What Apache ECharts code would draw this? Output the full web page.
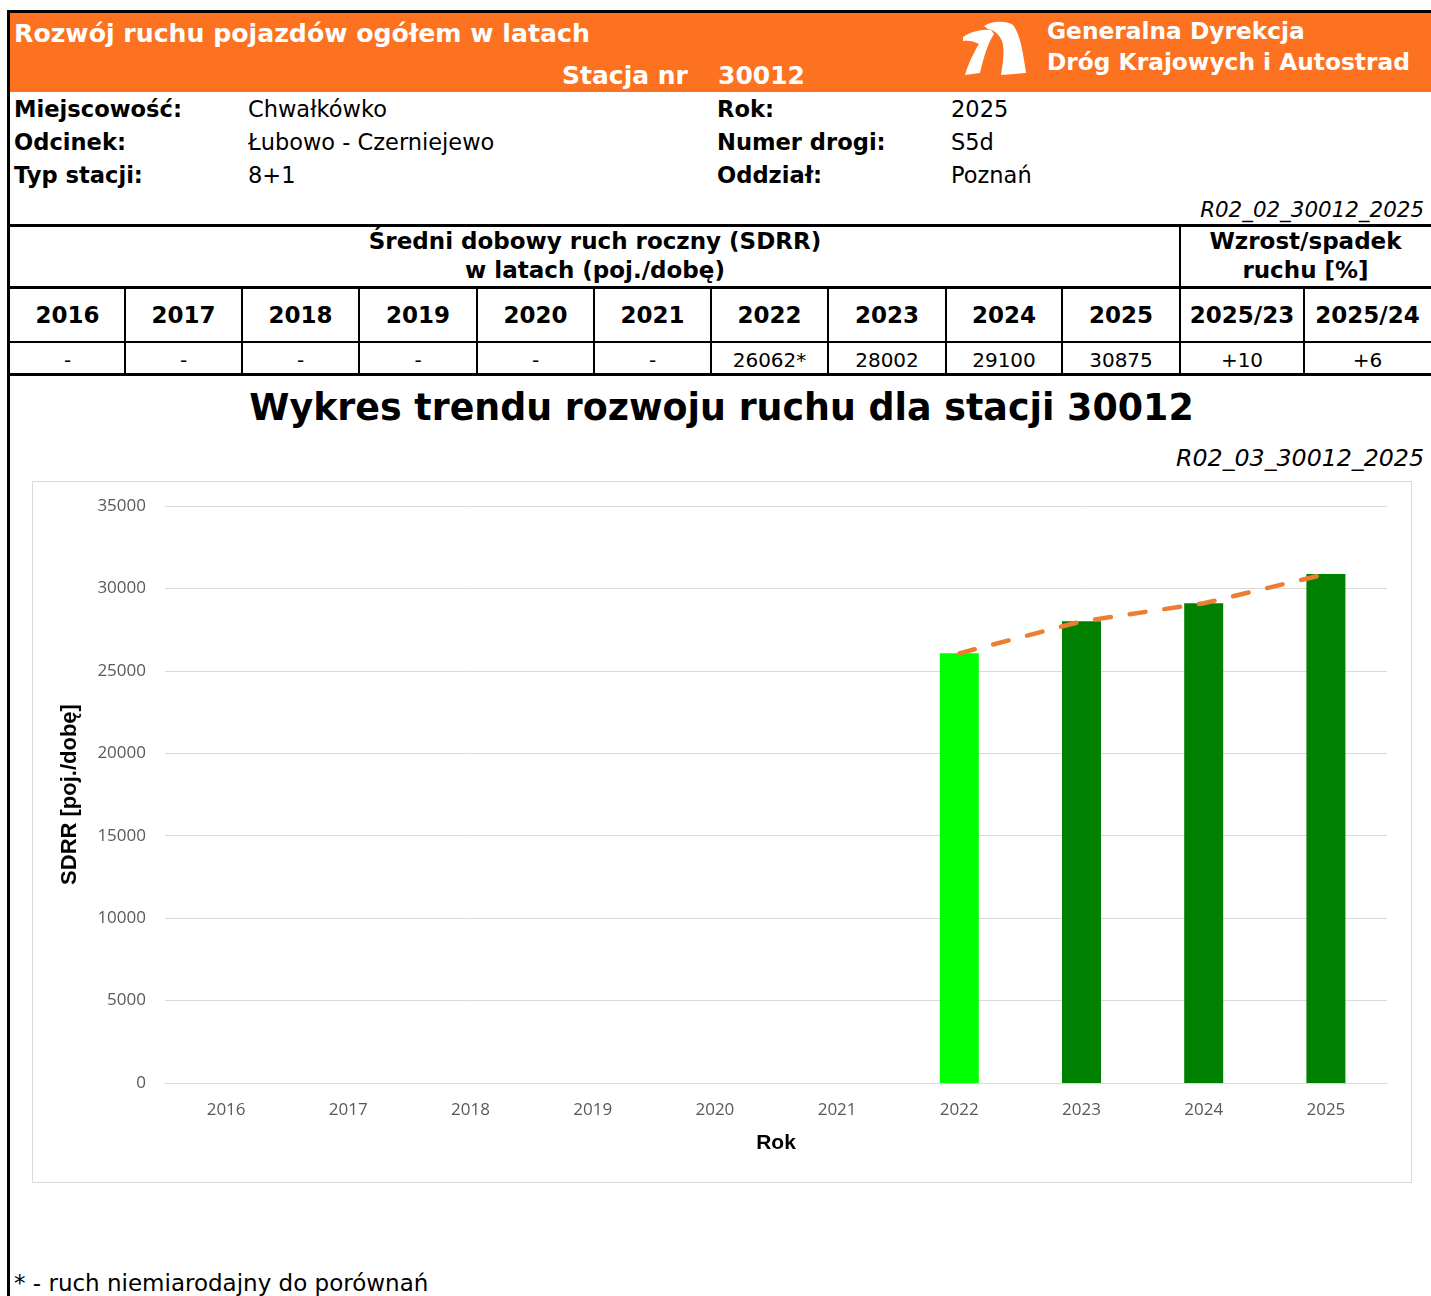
<!DOCTYPE html>
<html>
<head>
<meta charset="utf-8">
<script src="https://cdn.jsdelivr.net/npm/echarts@6/dist/echarts.min.js"></script>
<style>
  body { margin: 0; width: 1431px; height: 1296px; position: relative; overflow: hidden; background: #fff; font-family: "DejaVu Sans", Verdana, sans-serif; color: #000; }
  .abs { position: absolute; white-space: nowrap; }
  .b { font-weight: bold; }
  .hl { position: absolute; background: #000; }
  .cell { position: absolute; text-align: center; }
</style>
</head>
<body>
<!-- ramka i pasek naglowka -->
<div class="hl" style="left:7px;top:10px;width:1424px;height:3px"></div>
<div class="hl" style="left:7px;top:10px;width:3px;height:1286px"></div>
<div class="abs" style="left:10px;top:13px;width:1421px;height:79px;background:#fd7220"></div>
<div class="abs b" style="left:14px;top:19px;font-size:25.2px;color:#fff">Rozwój ruchu pojazdów ogółem w latach</div>
<div class="abs b" style="left:562px;top:61px;font-size:25px;color:#fff">Stacja nr</div>
<div class="abs b" style="left:718px;top:61px;font-size:25px;color:#fff">30012</div>
<svg class="abs" style="left:950px;top:10px" width="90" height="80" viewBox="0 0 90 80">
  <path d="M13 27 C20 22 31 19 41 20 L44 24 C38 33 34 46 30 63 L15 65 C19 52 24 42 29 34 C24 31 18 30 13 31 Z" fill="#fff"/>
  <path d="M34 16 C41 11 55 10 63 15 C70 24 73 42 76 63 L51 65 C53 52 55 40 52 31 C49 24 44 20 38 19 Z" fill="#fff"/>
</svg>
<div class="abs b" style="left:1047px;top:17px;font-size:23.3px;color:#fff">Generalna Dyrekcja</div>
<div class="abs b" style="left:1047px;top:48px;font-size:23.3px;color:#fff">Dróg Krajowych i Autostrad</div>

<div id="info"></div>
<div class="abs" style="right:7px;top:197px;font-size:21.4px;font-style:italic">R02_02_30012_2025</div>

<div id="table"></div>

<div class="abs b" style="left:0;width:1443px;top:386px;font-size:36.4px;text-align:center">Wykres trendu rozwoju ruchu dla stacji 30012</div>
<div class="abs" style="right:7px;top:444px;font-size:23.7px;font-style:italic">R02_03_30012_2025</div>

<div id="main" class="abs" style="left:32px;top:481px;width:1378px;height:700px;border:1px solid #d9d9d9"></div>

<div class="abs" style="left:14px;top:1270px;font-size:23px">* - ruch niemiarodajny do porównań</div>

<script>
// dane stacji 30012
var years = ['2016', '2017', '2018', '2019', '2020', '2021', '2022', '2023', '2024', '2025'];
var sdrr = [null, null, null, null, null, null, 26062, 28002, 29100, 30875];
var nonComparable = ['2022'];
var growthLabels = ['2025/23', '2025/24'];
var growthValues = ['+10', '+6'];
var yTicks = [0, 5000, 10000, 15000, 20000, 25000, 30000, 35000];

var infoLeft = [['Miejscowość:', 'Chwałkówko'], ['Odcinek:', 'Łubowo - Czerniejewo'], ['Typ stacji:', '8+1']];
var infoRight = [['Rok:', '2025'], ['Numer drogi:', 'S5d'], ['Oddział:', 'Poznań']];

// naglowek informacyjny
var html = '';
infoLeft.forEach(function (r, i) {
  var t = 96 + i * 33;
  html += '<div class="abs b" style="left:14px;top:' + t + 'px;font-size:22.6px">' + r[0] + '</div>';
  html += '<div class="abs" style="left:248px;top:' + t + 'px;font-size:22.5px">' + r[1] + '</div>';
});
infoRight.forEach(function (r, i) {
  var t = 96 + i * 33;
  html += '<div class="abs b" style="left:717px;top:' + t + 'px;font-size:22.6px">' + r[0] + '</div>';
  html += '<div class="abs" style="left:951px;top:' + t + 'px;font-size:22.5px">' + r[1] + '</div>';
});
document.getElementById('info').innerHTML = html;

// tabela SDRR
var colX = [10, 125, 242, 359, 477, 594, 711, 828, 946, 1062, 1180, 1304, 1431];
var t = '';
t += '<div class="hl" style="left:7px;top:224px;width:1424px;height:3px"></div>';
t += '<div class="hl" style="left:7px;top:286px;width:1424px;height:3px"></div>';
t += '<div class="hl" style="left:7px;top:341px;width:1424px;height:2px"></div>';
t += '<div class="hl" style="left:7px;top:373px;width:1424px;height:3px"></div>';
t += '<div class="hl" style="left:1179px;top:224px;width:2px;height:152px"></div>';
for (var c = 1; c < colX.length - 1; c++) {
  if (c === 10) continue;
  t += '<div class="hl" style="left:' + (colX[c] - 1) + 'px;top:286px;width:2px;height:90px"></div>';
}
t += '<div class="cell b" style="left:10px;width:1170px;top:227px;font-size:23px;line-height:29px">Średni dobowy ruch roczny (SDRR)<br>w latach (poj./dobę)</div>';
t += '<div class="cell b" style="left:1180px;width:251px;top:227px;font-size:23px;line-height:29px">Wzrost/spadek<br>ruchu [%]</div>';
years.forEach(function (y, i) {
  var l = colX[i], w = colX[i + 1] - colX[i];
  var v = sdrr[i] === null ? '-' : sdrr[i] + (nonComparable.indexOf(y) >= 0 ? '*' : '');
  t += '<div class="cell b" style="left:' + l + 'px;width:' + w + 'px;top:302px;font-size:23px">' + y + '</div>';
  t += '<div class="cell" style="left:' + l + 'px;width:' + w + 'px;top:348px;font-size:20px">' + v + '</div>';
});
growthLabels.forEach(function (g, i) {
  var l = colX[10 + i], w = colX[11 + i] - colX[10 + i];
  t += '<div class="cell b" style="left:' + l + 'px;width:' + w + 'px;top:302px;font-size:23px">' + g + '</div>';
  t += '<div class="cell" style="left:' + l + 'px;width:' + w + 'px;top:348px;font-size:20px">' + growthValues[i] + '</div>';
});
document.getElementById('table').innerHTML = t;

// wykres
var myChart = echarts.init(document.getElementById('main'));
myChart.setOption({
  animation: false,
  grid: { left: 132, right: 24, top: 24, bottom: 99 },
  xAxis: {
    type: 'category',
    data: years,
    name: 'Rok',
    nameLocation: 'middle',
    nameGap: 50,
    nameTextStyle: { fontFamily: 'Liberation Sans', fontWeight: 'bold', fontSize: 21, color: '#000' },
    axisLine: { lineStyle: { color: '#d9d9d9', width: 1 } },
    axisTick: { show: false },
    axisLabel: { fontFamily: 'Open Sans', fontSize: 17, color: '#595959', margin: 19 }
  },
  yAxis: {
    type: 'value',
    min: 0,
    max: yTicks[yTicks.length - 1],
    interval: 5000,
    name: 'SDRR [poj./dobę]',
    nameLocation: 'middle',
    nameGap: 84,
    nameTextStyle: { fontFamily: 'Liberation Sans', fontWeight: 'bold', fontSize: 22, color: '#000' },
    axisLine: { show: false },
    axisTick: { show: false },
    axisLabel: {
      fontFamily: 'Open Sans', fontSize: 17, color: '#595959', margin: 19,
      formatter: function (v) { return String(v); }
    },
    splitLine: { lineStyle: { color: '#d9d9d9', width: 1 } }
  },
  series: [
    {
      type: 'bar',
      barWidth: 39,
      data: sdrr.map(function (v, i) {
        return {
          value: v,
          itemStyle: { color: nonComparable.indexOf(years[i]) >= 0 ? '#00ff00' : '#008000' }
        };
      })
    },
    {
      type: 'line',
      data: sdrr,
      symbol: 'none',
      z: 5,
      lineStyle: { color: '#ed7d31', width: 4.5, type: [16, 19], cap: 'round' }
    }
  ]
});
</script>
</body>
</html>
